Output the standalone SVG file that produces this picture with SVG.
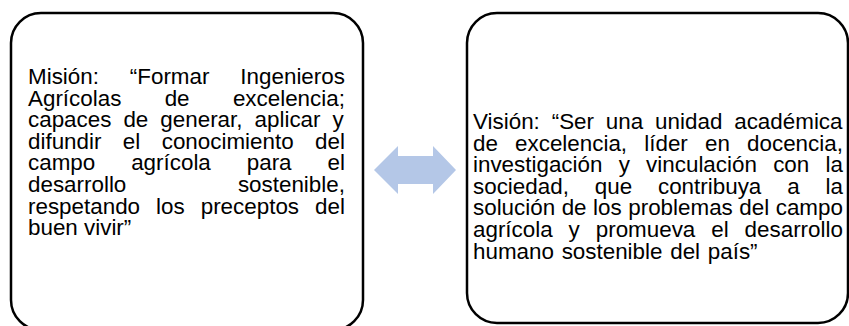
<svg xmlns="http://www.w3.org/2000/svg" width="849" height="326" viewBox="0 0 849 326">
<style>
.box{fill:#ffffff;stroke:#000000;stroke-width:2.5}
.t{font-family:"Liberation Sans",Arial,sans-serif;font-size:22.4px;fill:#000000}
.arrow{fill:#b4c7e7}
</style>
<rect x="0" y="0" width="849" height="326" fill="#ffffff"/>
<g id="mision">
<rect class="box" x="11" y="13" width="352" height="317" rx="30" ry="30"/>
<text class="t" x="28" y="84" word-spacing="24.69">Misión: “Formar Ingenieros</text>
<text class="t" x="28" y="105.6" word-spacing="37.11">Agrícolas de excelencia;</text>
<text class="t" x="28" y="127.2" word-spacing="5.80">capaces de generar, aplicar y</text>
<text class="t" x="28" y="148.8" word-spacing="15.20">difundir el conocimiento del</text>
<text class="t" x="28" y="170.4" word-spacing="29.72">campo agrícola para el</text>
<text class="t" x="28" y="192" word-spacing="105.36">desarrollo sostenible,</text>
<text class="t" x="28" y="213.6" word-spacing="9.80">respetando los preceptos del</text>
<text class="t" x="28" y="235.2">buen vivir”</text>
</g>
<g id="vision">
<rect class="box" x="467" y="13" width="381" height="310" rx="30" ry="30"/>
<text class="t" x="473" y="129" word-spacing="5.66">Visión: “Ser una unidad académica</text>
<text class="t" x="473" y="150.6" word-spacing="10.95">de excelencia, líder en docencia,</text>
<text class="t" x="473" y="172.2" word-spacing="10.02">investigación y vinculación con la</text>
<text class="t" x="473" y="193.8" word-spacing="19.66">sociedad, que contribuya a la</text>
<text class="t" x="473" y="215.4" word-spacing="0.30">solución de los problemas del campo</text>
<text class="t" x="473" y="237" word-spacing="9.72">agrícola y promueva el desarrollo</text>
<text class="t" x="473" y="258.6" word-spacing="1.5">humano sostenible del país”</text>
</g>
<g id="connectors">
<polygon class="arrow" points="374,170 398,146 398,156 433,156 433,146 456,170 433,194 433,184 398,184 398,194"/>
</g>
</svg>
